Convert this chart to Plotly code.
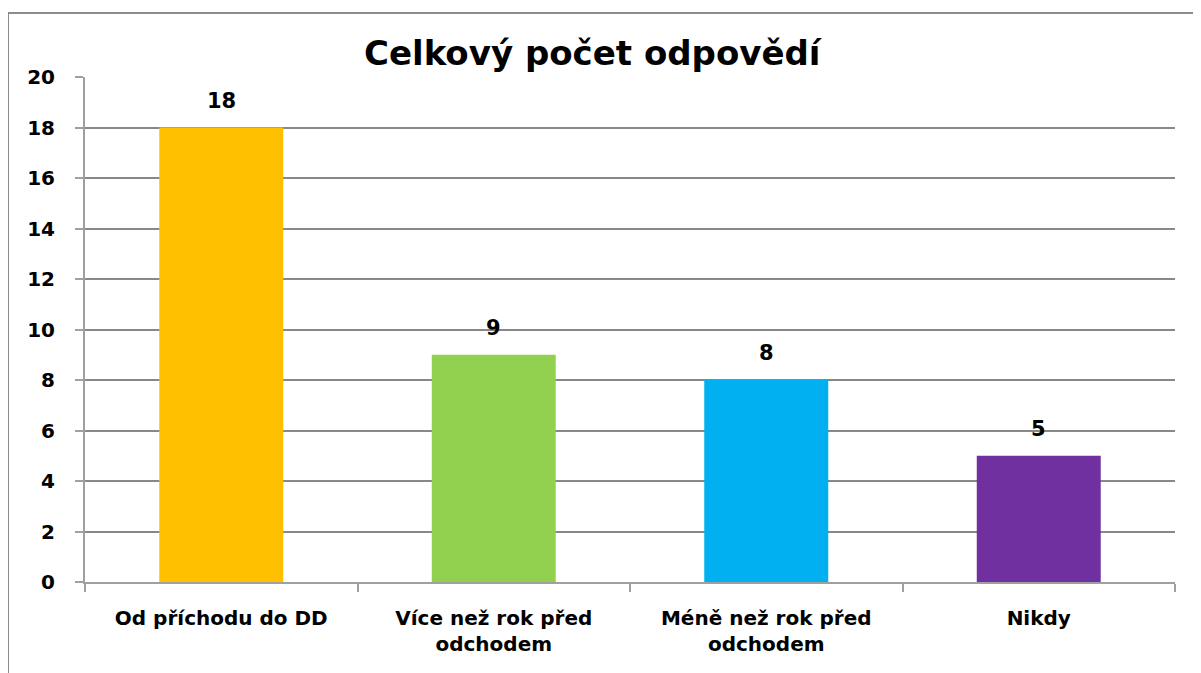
import plotly.graph_objects as go

categories = ["Od příchodu do DD", "Více než rok před<br>odchodem", "Méně než rok před<br>odchodem", "Nikdy"]
values = [18, 9, 8, 5]
colors = ["#FFC000", "#92D050", "#00B0F0", "#7030A0"]
title_text = "Celkový počet odpovědí"
y_ticks = [0, 2, 4, 6, 8, 10, 12, 14, 16, 18, 20]

# page body has an 8px margin; figure is placed at (8, 8) in the window
OFF = 8
W, H = 1201 - OFF, 673 - OFF
L, T = 85 - OFF, 77 - OFF
R = W - (1175 - OFF)
B = H - (582 - OFF)
pw, ph = W - L - R, H - T - B

FONT = "'DejaVu Sans', Verdana, sans-serif"

fig = go.Figure(go.Bar(
    x=categories, y=values, marker=dict(color=colors, line=dict(width=0)),
    hoverinfo="x+y",
))

# data labels placed from the data values via the axes
for c, v in zip(categories, values):
    fig.add_annotation(
        x=c, y=v, xref="x", yref="y", text=f"<b>{v}</b>", showarrow=False,
        yanchor="middle", yshift=27,
        font=dict(family=FONT, size=21, color="#000000"),
    )

fig.update_layout(
    width=W, height=H,
    margin=dict(l=L, r=R, t=T, b=B, autoexpand=False),
    paper_bgcolor="white", plot_bgcolor="white",
    bargap=0.545, showlegend=False,
    font=dict(family=FONT, color="#000000"),
    xaxis=dict(
        showgrid=False, showline=True, linecolor="#A0A0A0", linewidth=2,
        ticks="outside", tickson="boundaries", ticklen=8, tickcolor="#A0A0A0", tickwidth=2,
        tickfont=dict(family=FONT, size=20, color="#000000", weight="bold"),
        ticklabelstandoff=17,
    ),
    yaxis=dict(
        range=[0, 20], tickvals=y_ticks, showgrid=True, gridcolor="#888888", gridwidth=2,
        showline=True, linecolor="#A0A0A0", linewidth=2, zeroline=False,
        ticks="outside", ticklen=8, tickcolor="#A0A0A0", tickwidth=2,
        tickfont=dict(family=FONT, size=20, color="#000000", weight="bold"),
        ticklabelstandoff=16,
    ),
)

fig.add_annotation(
    text=f"<b>{title_text}</b>", xref="paper", yref="paper",
    x=(593 - 85) / pw, y=(582 - 53) / ph,
    xanchor="center", yanchor="middle", showarrow=False,
    font=dict(family=FONT, size=34, color="#000000"),
)

# chart area border (left and top edges visible)
bx = (8 - 85) / pw
by = (582 - 13) / ph
fig.add_shape(type="line", xref="paper", yref="paper", x0=bx, x1=bx, y0=by, y1=-0.5,
              line=dict(color="#8C8C8C", width=2))
fig.add_shape(type="line", xref="paper", yref="paper", x0=bx, x1=1.1, y0=by, y1=by,
              line=dict(color="#8C8C8C", width=2))

fig.write_html("out.html")
